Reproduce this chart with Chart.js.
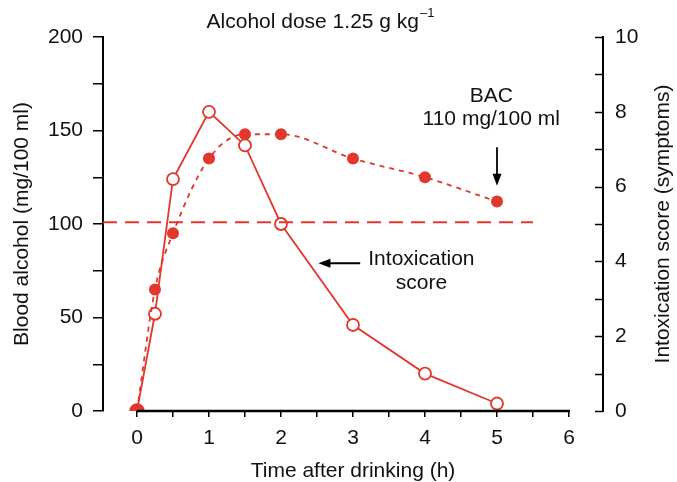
<!DOCTYPE html>
<html>
<head>
<meta charset="utf-8">
<script src="https://cdn.jsdelivr.net/npm/chart.js@4/dist/chart.umd.min.js"></script>
<style>
  html, body { margin: 0; padding: 0; background: #fff; }
  #wrap { width: 677px; height: 482px; position: relative; }
</style>
</head>
<body>
<div id="wrap"><canvas id="chart" width="677" height="482"></canvas></div>
<script>
// Time points (h) after drinking
const hours = [0, 0.25, 0.5, 1, 1.5, 2, 3, 4, 5];
// Blood alcohol concentration (mg/100 ml), left axis
const bloodAlcohol = [0, 65, 95, 135, 148, 148, 135, 125, 112];
// Intoxication score (symptoms), right axis
const intoxication = [0, 2.6, 6.2, 8.0, 7.1, 5.0, 2.3, 1.0, 0.2];
// Reference BAC level drawn as a long-dash line, and where it ends
const limitLevel = 101;
const limitEnd = 5.5;
// Tick positions
const hourTicks = [0, 0.5, 1, 1.5, 2, 2.5, 3, 3.5, 4, 4.5, 5, 5.5, 6];
const alcoholTicks = [0, 25, 50, 75, 100, 125, 150, 175, 200];
const scoreTicks = [0, 1, 2, 3, 4, 5, 6, 7, 8, 9, 10];

const RED = '#e2372c';
const FONT = '"Liberation Sans", Arial, Helvetica, sans-serif';
const X_MIN = -0.472, X_MAX = 6.472;

const toXY = (ys) => hours.map((h, i) => ({ x: h, y: ys[i] }));

// Axis lines, inward right-axis ticks, arrows and text labels
const decorations = {
  id: 'decorations',
  afterDatasetsDraw(chart) {
    const { ctx, scales } = chart;
    const x = scales.x, y = scales.y, y2 = scales.y2;
    ctx.save();
    // x axis baseline from 0 to 6 h
    ctx.strokeStyle = '#000';
    ctx.lineWidth = 2.5;
    ctx.beginPath();
    ctx.moveTo(x.getPixelForValue(0), y.bottom);
    ctx.lineTo(x.getPixelForValue(6) + 1, y.bottom);
    ctx.stroke();
    // inward ticks on the score axis
    ctx.lineWidth = 1.5;
    scoreTicks.forEach(v => {
      const py = Math.round(y2.getPixelForValue(v)) + 0.5;
      ctx.beginPath();
      ctx.moveTo(y2.left - 8, py);
      ctx.lineTo(y2.left, py);
      ctx.stroke();
    });

    // arrows
    ctx.fillStyle = '#000';
    ctx.lineWidth = 1.8;
    const arrow = (x0, y0, x1, y1) => {
      const ax0 = x.getPixelForValue(x0), ay0 = y.getPixelForValue(y0);
      const ax1 = x.getPixelForValue(x1), ay1 = y.getPixelForValue(y1);
      const ang = Math.atan2(ay1 - ay0, ax1 - ax0);
      const hl = 12, hw = 4.5;
      ctx.beginPath();
      ctx.moveTo(ax0, ay0);
      ctx.lineTo(ax1 - Math.cos(ang) * (hl - 2), ay1 - Math.sin(ang) * (hl - 2));
      ctx.stroke();
      ctx.beginPath();
      ctx.moveTo(ax1, ay1);
      ctx.lineTo(ax1 - Math.cos(ang) * hl - Math.sin(ang) * hw, ay1 - Math.sin(ang) * hl + Math.cos(ang) * hw);
      ctx.lineTo(ax1 - Math.cos(ang) * hl + Math.sin(ang) * hw, ay1 - Math.sin(ang) * hl - Math.cos(ang) * hw);
      ctx.closePath();
      ctx.fill();
    };
    arrow(5, 141, 5, 120.5);
    arrow(3.1, 79, 2.52, 79);

    // text labels
    ctx.font = '21px ' + FONT;
    ctx.textAlign = 'center';
    ctx.textBaseline = 'alphabetic';
    ctx.fillStyle = '#111';
    const label = (t, xv, yv) => ctx.fillText(t, x.getPixelForValue(xv), y.getPixelForValue(yv));
    label('BAC', 4.92, 165);
    label('110 mg/100 ml', 4.92, 153);
    label('Intoxication', 3.95, 78);
    label('score', 3.95, 65);

    // right axis title, reading bottom to top
    ctx.save();
    ctx.translate(y2.right - 14, (y2.top + y2.bottom) / 2);
    ctx.rotate(-Math.PI / 2);
    ctx.textBaseline = 'middle';
    ctx.fillText('Intoxication score (symptoms)', 0, 0);
    ctx.restore();

    // chart title with superscript
    const main = 'Alcohol dose 1.25 g kg';
    const sup = '\u20131';
    ctx.font = '21px ' + FONT;
    const wMain = ctx.measureText(main).width;
    ctx.font = '13px ' + FONT;
    const wSup = ctx.measureText(sup).width;
    const startX = 320 - (wMain + wSup) / 2;
    ctx.textAlign = 'left';
    ctx.font = '21px ' + FONT;
    ctx.fillText(main, startX, 28);
    ctx.font = '13px ' + FONT;
    ctx.fillText(sup, startX + wMain + 1, 17);
    ctx.restore();
  }
};

new Chart(document.getElementById('chart'), {
  type: 'line',
  data: {
    datasets: [
      {
        label: 'Reference level',
        data: [{ x: X_MIN, y: limitLevel }, { x: limitEnd, y: limitLevel }],
        yAxisID: 'y',
        borderColor: RED,
        borderWidth: 2,
        borderDash: [14, 8],
        pointRadius: 0
      },
      {
        label: 'BAC',
        data: toXY(bloodAlcohol),
        yAxisID: 'y',
        borderColor: RED,
        borderWidth: 1.8,
        borderDash: [5, 5],
        cubicInterpolationMode: 'monotone',
        pointRadius: 6,
        pointBackgroundColor: RED,
        pointBorderColor: RED,
        pointBorderWidth: 0
      },
      {
        label: 'Intoxication score',
        data: toXY(intoxication),
        yAxisID: 'y2',
        borderColor: RED,
        borderWidth: 1.8,
        tension: 0,
        pointRadius: 6,
        pointBackgroundColor: '#fff',
        pointBorderColor: RED,
        pointBorderWidth: 1.8
      },
      {
        label: 'Start',
        data: [{ x: hours[0], y: bloodAlcohol[0] }],
        yAxisID: 'y',
        showLine: false,
        pointRadius: 6,
        pointBackgroundColor: '#000',
        pointBorderColor: RED,
        pointBorderWidth: 3.5
      }
    ]
  },
  options: {
    responsive: false,
    animation: false,
    events: [],
    layout: { padding: { top: 37, left: 0, right: 0, bottom: 0 } },
    plugins: { legend: { display: false }, tooltip: { enabled: false }, title: { display: false } },
    scales: {
      x: {
        type: 'linear',
        min: X_MIN,
        max: X_MAX,
        afterBuildTicks: s => { s.ticks = hourTicks.map(v => ({ value: v })); },
        afterFit: s => { s.height = 71; },
        border: { display: false },
        grid: {
          drawOnChartArea: false,
          drawTicks: true,
          tickLength: 6,
          color: '#000',
          lineWidth: 1.5
        },
        ticks: {
          autoSkip: false,
          maxRotation: 0,
          padding: 9,
          color: '#111',
          font: { family: FONT, size: 21 },
          callback: v => (Number.isInteger(v) ? String(v) : '')
        },
        title: {
          display: true,
          text: 'Time after drinking (h)',
          color: '#111',
          font: { family: FONT, size: 21, lineHeight: 1 },
          padding: { top: 0, bottom: 0 }
        }
      },
      y: {
        position: 'left',
        min: 0,
        max: 200,
        afterBuildTicks: s => { s.ticks = alcoholTicks.map(v => ({ value: v })); },
        afterFit: s => { s.width = 103; },
        border: { display: true, color: '#000', width: 2 },
        grid: {
          drawOnChartArea: false,
          drawTicks: true,
          tickLength: 10,
          color: '#000',
          lineWidth: 1.5
        },
        ticks: {
          autoSkip: false,
          padding: 10,
          color: '#111',
          font: { family: FONT, size: 21 },
          callback: v => (v % 50 === 0 ? String(v) : '')
        },
        title: {
          display: true,
          text: 'Blood alcohol (mg/100 ml)',
          color: '#111',
          font: { family: FONT, size: 21, lineHeight: 1.2 },
          padding: { top: 10, bottom: 0 }
        }
      },
      y2: {
        position: 'right',
        min: 0,
        max: 10,
        afterBuildTicks: s => { s.ticks = scoreTicks.map(v => ({ value: v })); },
        afterFit: s => { s.width = 74; },
        border: { display: true, color: '#000', width: 2 },
        grid: { drawOnChartArea: false, drawTicks: false },
        ticks: {
          autoSkip: false,
          padding: 12,
          color: '#111',
          font: { family: FONT, size: 21 },
          callback: v => (v % 2 === 0 ? String(v) : '')
        },
        title: { display: false }
      }
    }
  },
  plugins: [decorations]
});
</script>
</body>
</html>
